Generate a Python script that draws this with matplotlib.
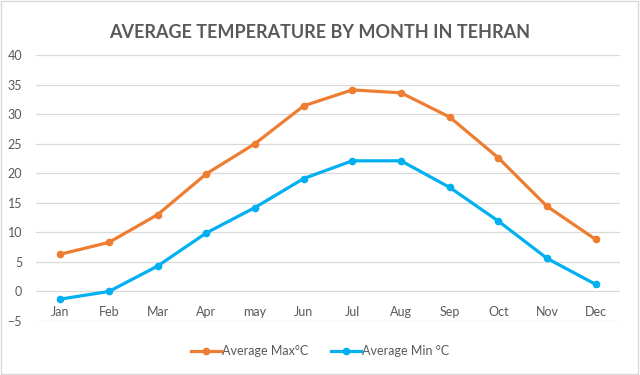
import matplotlib
matplotlib.use("Agg")
import matplotlib.pyplot as plt
from matplotlib.patches import Rectangle

months = ["Jan", "Feb", "Mar", "Apr", "may", "Jun", "Jul", "Aug", "Sep", "Oct", "Nov", "Dec"]
avg_max = [6.3, 8.3, 13.0, 19.9, 25.0, 31.4, 34.1, 33.6, 29.5, 22.6, 14.4, 8.8]
avg_min = [-1.3, 0.0, 4.3, 9.9, 14.2, 19.1, 22.1, 22.1, 17.6, 11.9, 5.6, 1.2]
yticks = [-5, 0, 5, 10, 15, 20, 25, 30, 35, 40]

ORANGE = "#ED7D31"
BLUE = "#00B0F0"
TEXT = "#595959"
GRID = "#D9D9D9"

plt.rcParams['font.family'] = ['Lato', 'DejaVu Sans']

fig = plt.figure(figsize=(6.4, 3.75), dpi=100)
# chart border
fig.patches.append(Rectangle((0.002, 0.003), 0.995, 0.994, transform=fig.transFigure,
                             fill=False, edgecolor="#D9D9D9", linewidth=1))

# plot area: x 36..620 px, y(40)=55 px, y(-5)=321 px
ax = fig.add_axes([36 / 640, 1 - 321 / 375, (620 - 36) / 640, (321 - 55) / 375])
x = range(len(months))
ax.plot(x, avg_max, color=ORANGE, lw=2.3, marker="o", ms=4.5, label="Average Max°C")
ax.plot(x, avg_min, color=BLUE, lw=2.3, marker="o", ms=4.5, label="Average Min °C")

ax.set_xlim(-0.5, len(months) - 0.5)
ax.set_ylim(-5, 40)
ax.set_yticks(yticks)
ax.set_xticks(list(x))
ax.set_xticklabels(months)
ax.grid(axis="y", color=GRID, lw=0.9)
ax.set_axisbelow(True)
for s in ax.spines.values():
    s.set_visible(False)
ax.tick_params(length=0, colors=TEXT, labelsize=9)
ax.tick_params(axis="y", pad=10)
ax.tick_params(axis="x", pad=-11)

fig.text(0.5, 1 - 33 / 375, "AVERAGE TEMPERATURE BY MONTH IN TEHRAN", ha="center", va="center",
         fontsize=13, color=TEXT, fontweight="bold")

fig.legend(loc="center", bbox_to_anchor=(0.5, 1 - 351 / 375), ncol=2, frameon=False,
           fontsize=9, labelcolor=TEXT, handlelength=2.4, handletextpad=0.1, columnspacing=1.8)

fig.savefig("out.png", dpi=100)
